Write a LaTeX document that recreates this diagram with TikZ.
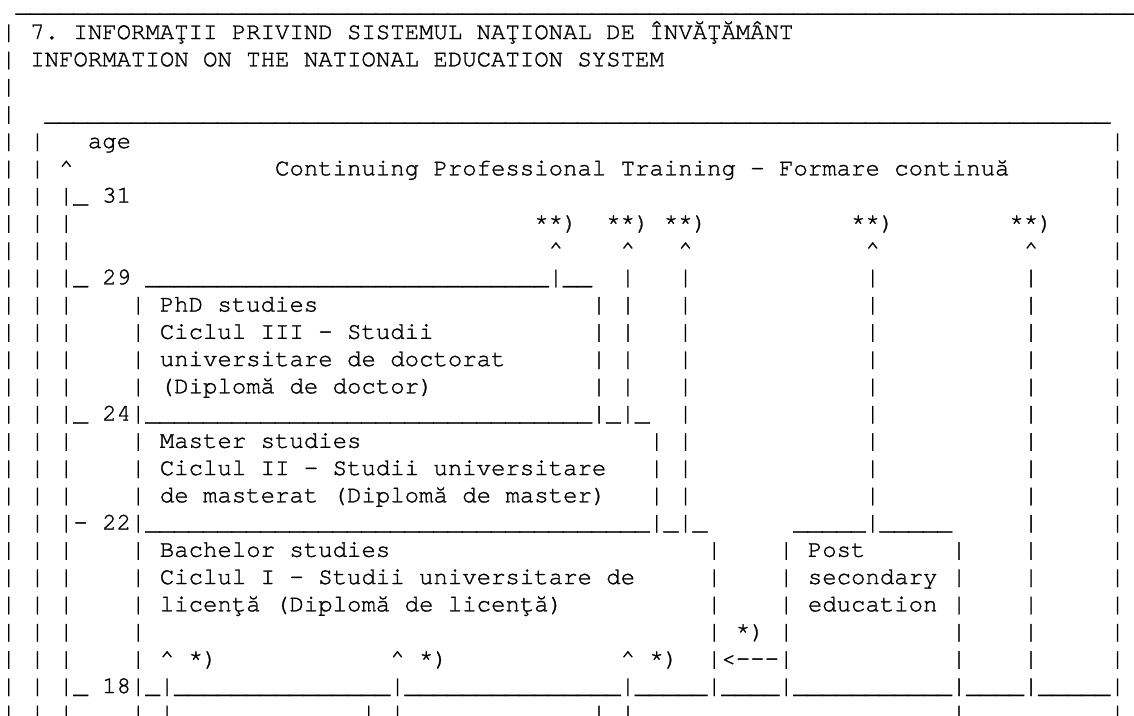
\documentclass[tikz,border=0pt]{standalone}
\usepackage{fontspec}
\usepackage{tikz}
\newfontfamily\asciifont{texgyrecursor-regular.otf}[FakeBold=1.2]

\newcommand\rep[2]{\foreach\repi in {1,...,#1}{#2}}
\newcommand\gap[1]{\rep{#1}{\ }}
\newcommand\unders[1]{\rep{#1}{\_}}
\newcommand\caret{\textasciicircum}
\newcommand\tailA{|\gap{12}|\gap{10}|\gap{5}|}
\newcommand\tailB{|\gap{4}|\gap{5}|}

\begin{document}
\begin{tikzpicture}[x=7.2pt, y=-13.625pt,
    asciirow/.style={anchor=base west, inner sep=0pt, text=black,
        font=\asciifont\fontsize{12pt}{13.6pt}\selectfont\frenchspacing}]
    \useasboundingbox (-0.55pt,5.9pt) rectangle (566.45pt,-352.1pt);

    \node[asciirow] (r0) at (0,0) {\gap{1}\unders{78}};
    \node[asciirow] (r1) at (0,1) {| 7. INFORMAŢII PRIVIND SISTEMUL NAŢIONAL DE ÎNVĂŢĂMÂNT};
    \node[asciirow] (r2) at (0,2) {| INFORMATION ON THE NATIONAL EDUCATION SYSTEM};
    \node[asciirow] (r3) at (0,3) {|};
    \node[asciirow] (r4) at (0,4) {|\gap{2}\unders{74}};
    \node[asciirow] (r5) at (0,5) {| |\gap{3}age\gap{68}|};
    \node[asciirow] (r6) at (0,6) {| | \caret\gap{14}Continuing Professional Training - Formare continuă\gap{7}|};
    \node[asciirow] (r7) at (0,7) {| | |\_ 31\gap{68}|};
    \node[asciirow] (r8) at (0,8) {| | |\gap{32}**)\gap{2}**) **)\gap{10}**)\gap{8}**)\gap{4}|};
    \node[asciirow] (r9) at (0,9) {| | |\gap{33}\caret\gap{4}\caret\gap{3}\caret\gap{12}\caret\gap{10}\caret\gap{5}|};
    \node[asciirow] (r10) at (0,10) {| | |\_ 29 \unders{28}|\_\_\gap{2}|\gap{3}\tailA};
    \node[asciirow] (r11) at (0,11) {| | |\gap{4}| PhD studies\gap{19}| |\gap{3}\tailA};
    \node[asciirow] (r12) at (0,12) {| | |\gap{4}| Ciclul III - Studii\gap{11}| |\gap{3}\tailA};
    \node[asciirow] (r13) at (0,13) {| | |\gap{4}| universitare de doctorat\gap{6}| |\gap{3}\tailA};
    \node[asciirow] (r14) at (0,14) {| | |\gap{4}| (Diplomă de doctor)\gap{11}| |\gap{3}\tailA};
    \node[asciirow] (r15) at (0,15) {| | |\_ 24|\unders{31}|\_|\_\gap{2}\tailA};
    \node[asciirow] (r16) at (0,16) {| | |\gap{4}| Master studies\gap{20}| \tailA};
    \node[asciirow] (r17) at (0,17) {| | |\gap{4}| Ciclul II - Studii universitare\gap{3}| \tailA};
    \node[asciirow] (r18) at (0,18) {| | |\gap{4}| de masterat (Diplomă de master)\gap{3}| \tailA};
    \node[asciirow] (r19) at (0,19) {| | |- 22|\unders{35}|\_|\_\gap{6}\unders{5}|\unders{5}\gap{5}|\gap{5}|};
    \node[asciirow] (r20) at (0,20) {| | |\gap{4}| Bachelor studies\gap{22}|\gap{4}| Post\gap{6}\tailB};
    \node[asciirow] (r21) at (0,21) {| | |\gap{4}| Ciclul I - Studii universitare de\gap{5}|\gap{4}| secondary \tailB};
    \node[asciirow] (r22) at (0,22) {| | |\gap{4}| licenţă (Diplomă de licenţă)\gap{10}|\gap{4}| education \tailB};
    \node[asciirow] (r23) at (0,23) {| | |\gap{4}|\gap{39}| *) |\gap{11}\tailB};
    \node[asciirow] (r24) at (0,24) {| | |\gap{4}| \caret{} *)\gap{12}\caret{} *)\gap{12}\caret{} *)\gap{2}|<{-}{-}{-}|\gap{11}\tailB};
    \node[asciirow] (r25) at (0,25) {| | |\_ 18|\_|\unders{15}|\unders{15}|\unders{5}|\unders{4}|\unders{11}|\unders{4}|\unders{5}|};
    \node[asciirow] (r26) at (0,26) {| | |\gap{4}| |\gap{13}| |\gap{13}| |\gap{22}|\gap{10}|};
\end{tikzpicture}
\end{document}
